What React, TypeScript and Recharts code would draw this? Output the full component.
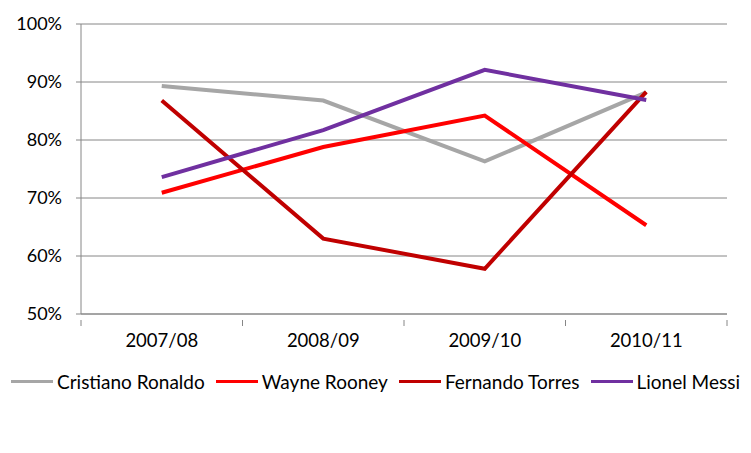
import { CartesianGrid, Legend, Line, LineChart, XAxis, YAxis } from "recharts";

const seasons = ["2007/08", "2008/09", "2009/10", "2010/11"];
const ronaldo = [0.893, 0.868, 0.763, 0.882];
const rooney = [0.709, 0.788, 0.842, 0.653];
const torres = [0.868, 0.63, 0.578, 0.883];
const messi = [0.736, 0.817, 0.921, 0.869];
const yTicks = [0.5, 0.6, 0.7, 0.8, 0.9, 1.0];

const players = [
  { key: "ronaldo", name: "Cristiano Ronaldo", color: "#A6A6A6" },
  { key: "rooney", name: "Wayne Rooney", color: "#FF0000" },
  { key: "torres", name: "Fernando Torres", color: "#C00000" },
  { key: "messi", name: "Lionel Messi", color: "#7030A0" },
];

const data = seasons.map((season, i) => ({
  season,
  ronaldo: ronaldo[i],
  rooney: rooney[i],
  torres: torres[i],
  messi: messi[i],
}));

const FONT = "Lato, 'Open Sans', sans-serif";
const AXIS = "#868686";
const W = 751;
const H = 453;
const MARGIN = { top: 24, right: 24, left: 0, bottom: 62 };
const Y_W = 81;
const HALF_BAND = (W - MARGIN.right - Y_W) / seasons.length / 2;

// category labels centred, tick marks on the boundaries between categories
const SeasonTick = (props: any) => {
  const { x, y, payload, index } = props;
  return (
    <g>
      <line x1={x - HALF_BAND} x2={x - HALF_BAND} y1={y - 14} y2={y - 8} stroke={AXIS} />
      {index === seasons.length - 1 && (
        <line x1={x + HALF_BAND} x2={x + HALF_BAND} y1={y - 14} y2={y - 8} stroke={AXIS} />
      )}
      <text x={x} y={y} dy="0.71em" textAnchor="middle" fill="#000" fontSize={18.5} fontFamily={FONT}>
        {payload.value}
      </text>
    </g>
  );
};

const LegendContent = () => (
  <div
    style={{
      display: "flex",
      justifyContent: "center",
      alignItems: "center",
      height: 20,
      fontFamily: FONT,
      fontSize: 19,
      color: "#000",
      whiteSpace: "nowrap",
    }}
  >
    {players.map((p, i) => (
      <div key={p.key} style={{ display: "flex", alignItems: "center", marginLeft: i === 0 ? 0 : 11 }}>
        <span style={{ display: "inline-block", width: 42, height: 3, background: p.color, marginRight: 4 }} />
        <span>{p.name}</span>
      </div>
    ))}
  </div>
);

const App = () => {
  return (
    <div style={{ margin: -8, width: W, height: H, background: "#fff" }}>
      <LineChart width={W} height={H} data={data} margin={MARGIN}>
        <CartesianGrid vertical={false} stroke={AXIS} strokeWidth={1} />
        <XAxis
          dataKey="season"
          height={57}
          stroke={AXIS}
          tickLine={false}
          tickMargin={14}
          tick={<SeasonTick />}
          interval={0}
          padding={{ left: HALF_BAND, right: HALF_BAND }}
        />
        <YAxis
          domain={[0.5, 1]}
          ticks={yTicks}
          width={Y_W}
          stroke={AXIS}
          tickSize={5}
          tickMargin={14}
          tickFormatter={(v: number) => `${Math.round(v * 100)}%`}
          tick={{ fill: "#000", fontSize: 18, fontFamily: FONT }}
        />
        {players.map((p) => (
          <Line
            key={p.key}
            dataKey={p.key}
            name={p.name}
            stroke={p.color}
            strokeWidth={4}
            dot={false}
            type="linear"
            isAnimationActive={false}
          />
        ))}
        <Legend
          verticalAlign="bottom"
          content={<LegendContent />}
          wrapperStyle={{ left: 0, width: W }}
        />
      </LineChart>
    </div>
  );
};

export default App;
